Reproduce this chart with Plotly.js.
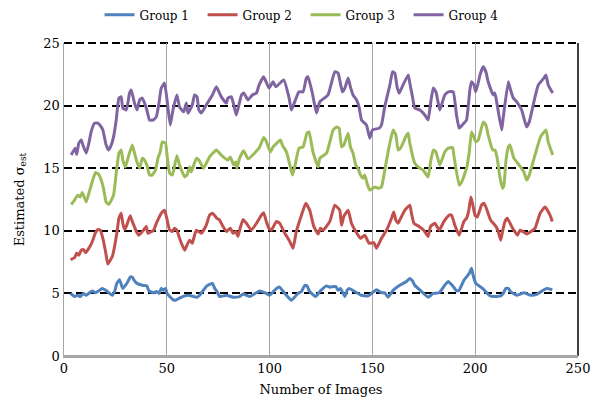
<!DOCTYPE html>
<html>
<head>
<meta charset="utf-8">
<script src="https://cdn.plot.ly/plotly-3.0.1.min.js"></script>
<style>html,body{margin:0;padding:0;background:#fff;}#chart{width:603px;height:409px;}</style>
</head>
<body>
<div id="chart"></div>
<script>
const seriesNames = ["Group 1", "Group 2", "Group 3", "Group 4"];
const seriesColors = ["#4F81BD", "#C0504D", "#9BBB59", "#8064A2"];

const g1x = [3.2,5.1,6.7,7.9,9.5,10.8,12.4,13.7,15.3,16.9,18.6,20.8,22.2,23.5,24.6,25.7,27.0,27.8,28.6,29.9,31.1,32.2,33.2,34.3,35.5,38.1,40.3,41.3,43.6,44.9,46.2,47.3,48.4,49.4,50.1,51.4,53.0,54.3,55.9,58.7,60.3,61.9,64.7,66.0,67.3,69.5,72.2,73.3,74.4,75.7,79.0,82.2,85.4,87.1,90.3,95.2,98.4,100.0,103.3,104.9,107.4,110.6,113.8,115.5,117.1,118.2,119.5,122.4,124.7,127.7,129.3,132.2,133.3,134.5,136.6,137.7,138.7,141.4,144.7,147.9,149.6,152.0,154.4,156.0,157.6,160.1,163.3,166.6,168.2,169.5,170.6,173.9,177.1,179.6,182.5,185.2,186.9,189.3,190.9,192.2,194.5,197.1,198.2,199.0,200.3,203.6,206.8,208.5,212.4,213.6,214.9,216.1,217.2,220.5,223.7,227.0,230.2,233.1,234.8,237.5];
const g1y = [5.0,4.75,4.85,4.75,5.0,4.85,5.05,5.2,5.05,5.2,5.4,5.2,5.0,4.85,5.15,5.8,6.1,5.75,5.4,5.65,5.95,6.3,6.3,6.0,5.8,5.65,5.6,5.2,5.05,5.15,5.0,5.4,5.25,5.4,5.0,4.75,4.5,4.45,4.6,4.8,4.85,4.8,4.7,4.85,5.15,5.6,5.8,5.4,5.15,4.75,4.85,4.7,4.75,4.95,4.75,5.2,5.0,4.85,5.4,5.5,5.0,4.45,5.0,5.15,5.65,5.6,5.15,4.75,5.2,5.6,5.5,5.55,5.25,5.4,4.75,5.25,5.4,5.15,4.85,4.8,5.0,5.3,5.05,5.05,4.7,5.25,5.65,5.95,6.2,6.0,5.65,5.15,4.7,5.0,5.05,5.65,5.95,5.55,5.2,5.25,6.05,6.6,7.0,6.45,5.8,5.4,4.85,4.75,4.8,5.0,5.4,5.4,5.15,4.85,5.05,4.85,4.95,5.25,5.4,5.3];

const g2x = [3.2,5.1,6.2,7.2,8.4,9.5,10.5,12.8,14.0,15.3,16.5,17.6,18.9,20.2,21.3,22.5,23.5,24.6,25.7,26.7,27.8,28.6,29.5,30.3,32.2,33.2,35.2,36.4,38.7,40.0,40.8,43.6,44.9,47.3,48.9,50.0,51.4,52.7,53.8,54.9,56.2,57.5,58.7,59.8,61.1,62.4,63.5,64.4,66.8,69.2,70.8,72.2,74.4,75.7,77.3,79.0,80.9,82.2,83.5,84.6,85.4,87.1,88.7,91.1,93.6,96.0,97.1,98.4,99.7,100.9,103.3,104.9,107.4,109.8,111.4,113.0,115.5,117.6,119.5,121.5,123.6,124.7,126.0,129.3,131.7,134.1,135.0,136.1,138.2,139.8,141.9,144.2,146.3,148.4,150.7,152.0,154.4,156.9,159.3,160.4,161.4,162.5,163.3,165.8,168.2,169.0,170.2,172.7,175.0,177.1,178.3,180.4,182.5,184.8,187.4,188.5,190.1,192.2,194.5,195.8,196.9,197.9,198.7,199.9,201.0,203.1,204.2,205.2,207.5,210.1,211.2,212.4,213.3,214.5,215.6,218.2,220.5,221.8,223.1,225.0,228.0,229.1,231.6,234.0,236.4,237.5];
const g2y = [7.7,7.85,8.2,8.05,8.45,8.5,8.25,8.8,9.25,9.85,10.1,10.05,9.4,8.35,7.35,7.65,7.95,8.75,9.8,11.0,11.4,10.6,10.1,10.35,11.2,10.75,9.95,9.65,10.05,10.35,9.8,10.05,10.6,11.4,11.65,11.0,10.05,9.95,10.2,10.05,9.4,8.85,8.45,8.85,9.25,9.0,9.65,10.05,9.8,10.45,11.25,11.4,11.0,10.85,10.35,9.95,10.2,9.8,9.95,9.55,10.05,10.9,10.6,10.05,10.6,11.25,11.45,10.75,10.2,10.05,10.75,10.6,9.8,9.15,8.6,9.95,11.25,12.2,11.65,10.35,9.75,10.2,10.05,10.75,12.05,11.65,10.45,11.15,11.65,10.6,9.95,9.4,9.65,9.0,9.05,8.6,9.4,10.05,11.0,11.5,10.85,10.6,10.85,11.65,12.05,11.4,10.6,10.35,10.05,9.55,10.35,10.6,10.05,10.75,11.25,11.25,10.45,9.65,10.75,11.0,11.65,12.7,12.2,11.25,11.1,12.05,12.2,11.9,10.85,10.35,9.95,9.25,9.95,10.75,11.0,10.2,9.65,10.05,9.95,9.75,10.05,10.2,11.4,11.9,11.25,10.75];

const g3x = [3.5,5.1,6.7,7.9,8.9,10.8,12.1,13.7,15.3,16.9,18.1,19.2,20.5,21.8,24.1,25.4,26.7,27.8,28.6,29.9,31.1,33.2,34.3,35.5,36.8,38.1,39.2,40.3,41.6,42.9,44.5,45.7,46.8,47.8,49.4,50.1,51.4,52.7,54.9,56.2,58.7,59.8,61.1,61.9,64.4,65.6,67.9,70.8,74.1,76.5,79.7,80.9,82.5,83.5,84.1,85.4,87.4,89.5,93.2,95.2,97.1,98.1,100.4,101.7,105.3,106.2,108.2,109.5,111.1,112.2,114.3,116.3,118.2,119.2,121.1,123.6,124.4,127.7,129.3,130.9,132.5,133.8,135.0,136.1,138.2,139.3,140.6,141.9,143.0,144.2,145.5,146.3,147.4,148.7,151.2,152.8,154.4,155.6,156.9,158.8,160.1,161.4,162.5,163.7,166.6,167.4,168.2,170.6,173.1,174.7,177.1,178.3,179.6,180.9,182.8,185.2,186.9,189.0,189.6,192.2,193.4,195.8,197.1,198.2,199.0,200.3,201.5,203.9,205.2,206.3,208.5,209.6,210.7,212.0,213.3,214.0,214.9,216.1,216.9,218.8,221.4,223.7,225.0,226.3,229.1,231.8,234.4,235.5,237.7];
const g3y = [12.1,12.45,12.85,12.7,13.05,12.3,13.0,13.9,14.65,14.5,14.05,13.4,12.3,12.1,12.85,14.6,16.2,16.45,15.65,15.1,15.8,16.85,16.2,15.5,15.0,15.8,15.65,15.25,14.45,14.45,14.85,15.8,16.3,17.1,17.0,16.05,14.6,14.45,16.0,15.25,14.3,14.45,15.1,14.7,15.8,15.65,15.0,15.9,16.45,16.05,15.65,15.9,15.25,15.5,15.0,15.8,16.4,15.75,16.3,16.7,17.45,17.25,16.3,16.7,17.25,16.85,16.3,15.5,14.45,15.1,16.6,16.7,17.8,17.9,16.3,15.1,15.8,16.2,17.1,18.05,18.3,18.2,16.7,16.85,17.8,16.7,16.2,15.25,15.0,14.45,14.2,14.45,13.8,13.25,13.5,13.4,13.5,14.45,15.65,17.25,18.05,17.65,16.45,16.6,17.65,17.8,17.0,15.4,15.0,14.85,14.3,15.5,16.45,16.3,15.25,16.3,16.6,16.65,16.05,13.65,13.9,15.0,16.3,17.9,17.65,17.1,17.25,18.7,18.45,17.65,16.45,16.45,15.8,14.3,13.4,13.65,15.5,16.7,16.85,15.8,15.25,14.7,14.05,14.45,16.05,17.5,18.05,17.1,16.05];

const g4x = [3.5,5.4,6.2,7.2,8.4,9.2,10.8,12.1,13.2,14.8,16.5,18.1,18.9,20.5,21.7,23.0,24.1,25.4,26.7,27.8,28.6,30.3,31.9,32.7,34.3,35.5,36.8,38.1,39.2,40.3,41.6,43.3,44.9,46.2,47.3,48.9,50.5,51.7,53.0,54.9,56.2,58.2,59.5,60.3,62.4,63.5,64.7,65.6,66.8,69.2,72.2,74.1,76.5,79.0,79.7,81.4,82.2,83.8,86.3,87.4,89.5,91.6,93.6,94.9,97.1,99.7,101.7,103.0,105.7,106.9,109.5,110.6,112.2,114.3,116.3,117.9,118.7,120.8,122.8,124.4,128.4,131.7,133.3,135.4,136.6,138.2,139.3,140.6,142.3,143.5,144.7,147.1,148.7,150.0,153.3,154.4,156.0,158.5,159.8,160.9,162.0,163.0,164.2,167.4,168.2,169.5,170.6,173.1,175.5,177.1,178.3,179.6,180.9,182.8,184.1,185.2,186.9,189.3,190.9,192.2,194.5,195.8,197.4,198.2,199.4,200.3,202.6,203.9,205.2,206.3,208.8,209.6,210.7,212.9,213.6,216.1,217.2,218.5,220.2,222.6,225.0,226.3,229.1,230.7,233.4,234.4,235.5,237.7];
const g4y = [16.05,16.6,16.1,17.0,17.25,16.85,16.2,17.0,17.9,18.6,18.6,18.3,18.05,16.85,16.45,16.85,17.5,18.85,20.6,20.7,19.8,19.65,21.0,21.25,20.2,19.65,20.45,20.6,20.2,19.65,18.85,18.85,19.1,20.2,21.4,21.8,19.9,18.45,19.65,20.85,19.9,19.5,20.2,19.4,20.05,20.85,20.7,19.65,19.4,20.05,20.85,21.5,20.7,20.2,20.6,20.7,20.3,19.25,20.85,21.0,20.45,20.85,21.0,21.65,22.3,21.4,21.9,21.5,21.9,22.05,20.6,19.65,20.3,21.1,21.1,22.2,22.3,21.0,19.4,20.3,20.85,22.7,22.6,21.1,21.4,22.2,21.5,20.85,20.45,19.9,18.85,18.45,17.4,18.05,18.2,18.45,19.9,21.65,22.7,22.6,21.5,21.0,21.4,22.45,21.8,20.7,19.8,19.65,19.25,18.85,20.2,21.4,21.1,19.65,20.3,20.85,21.1,21.1,19.25,18.2,18.6,18.85,21.25,21.9,21.65,21.1,22.6,23.1,22.7,21.9,20.85,21.0,20.05,18.05,19.0,21.9,21.25,20.6,20.3,19.65,18.3,18.7,20.7,21.65,22.2,22.45,21.65,21.0];

const xs = [g1x, g2x, g3x, g4x];
const ys = [g1y, g2y, g3y, g4y];
const xTickVals = [0, 50, 100, 150, 200, 250];
const yTickVals = [0, 5, 10, 15, 20, 25];

const FONT = "DejaVu Serif, Liberation Serif, serif";

const traces = seriesNames.map((n, i) => ({
  x: xs[i], y: ys[i], name: n, type: "scatter", mode: "lines",
  line: { color: seriesColors[i], width: 3, shape: "spline", smoothing: 0.4 }
}));

const layout = {
  width: 603, height: 409,
  margin: { l: 64, r: 25, t: 43, b: 53, autoexpand: false },
  paper_bgcolor: "#ffffff", plot_bgcolor: "#ffffff",
  font: { family: FONT, size: 13, color: "#000000" },
  showlegend: true,
  legend: {
    orientation: "h", x: 0.47, xanchor: "center", y: 1.09, yanchor: "middle",
    font: { family: FONT, size: 12, color: "#000" },
    entrywidth: 58, entrywidthmode: "pixels", itemwidth: 30,
    bgcolor: "rgba(0,0,0,0)"
  },
  xaxis: {
    range: [0, 250], tickvals: xTickVals, ticktext: xTickVals.map(String),
    showgrid: true, gridcolor: "#A6A6A6", gridwidth: 1,
    showline: true, linecolor: "#A6A6A6", linewidth: 1.5,
    zeroline: false, ticks: "", ticklen: 0,
    tickfont: { family: FONT, size: 13, color: "#000" },
    title: { text: "Number of Images", font: { family: FONT, size: 13, color: "#000" }, standoff: 10 },
    automargin: false
  },
  yaxis: {
    range: [0, 25], tickvals: yTickVals, ticktext: yTickVals.map(String),
    showgrid: true, gridcolor: "#000000", gridwidth: 2, griddash: "8px,4px",
    showline: true, linecolor: "#A6A6A6", linewidth: 1.5,
    zeroline: false, ticks: "", ticklen: 0,
    tickfont: { family: FONT, size: 13, color: "#000" },
    title: { text: "Estimated σ<sub>est</sub>", font: { family: FONT, size: 13, color: "#000" }, standoff: 16 },
    automargin: false
  },
  shapes: [
    { type: "line", xref: "paper", yref: "paper", x0: 0, x1: 1, y0: 1, y1: 1, layer: "below", line: { color: "#000000", width: 2, dash: "8px,4px" } },
    { type: "line", xref: "paper", yref: "paper", x0: 1, x1: 1, y0: 0, y1: 1, line: { color: "#000000", width: 1.5 } },
    { type: "line", xref: "paper", yref: "paper", x0: 0, x1: 1, y0: 0, y1: 0, line: { color: "#A6A6A6", width: 2 } }
  ]
};

Plotly.newPlot("chart", traces, layout, { staticPlot: true, displayModeBar: false });
</script>
</body>
</html>
